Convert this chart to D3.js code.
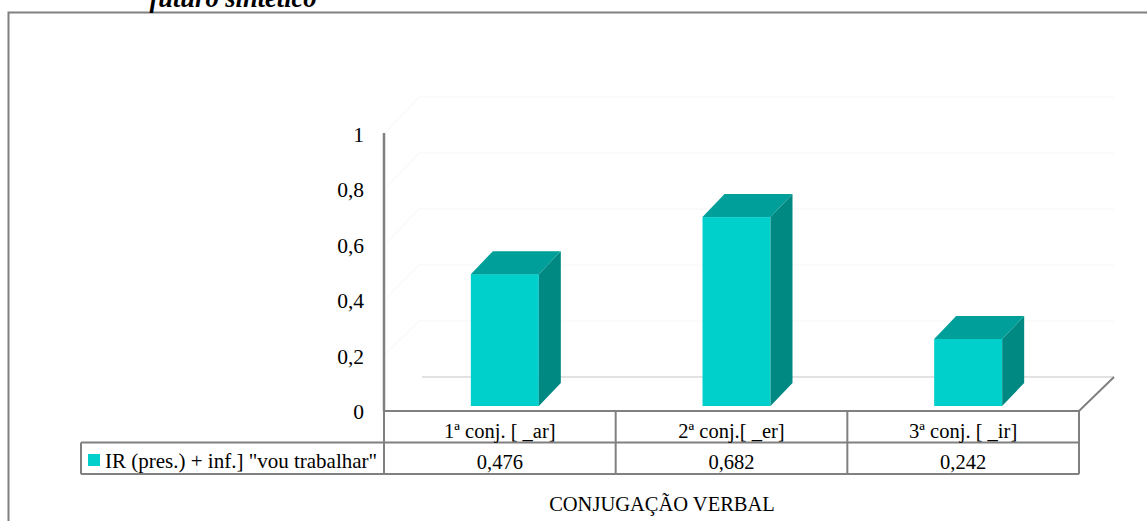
<!DOCTYPE html>
<html>
<head>
<meta charset="utf-8">
<script src="https://cdn.jsdelivr.net/npm/d3@7"></script>
<style>
  html, body { margin: 0; padding: 0; background: #fff; }
  svg { display: block; }
</style>
</head>
<body>
<svg id="chart" width="1147" height="521"></svg>
<script>
// Share of "IR (pres.) + inf." periphrastic future by verb conjugation
const categories = ["1ª conj. [ _ar]", "2ª conj.[ _er]", "3ª conj. [ _ir]"];
const seriesName = "IR (pres.) + inf.] \"vou trabalhar\"";
const values = [0.476, 0.682, 0.242];
const valueLabels = ["0,476", "0,682", "0,242"];
const yTicks = [0, 0.2, 0.4, 0.6, 0.8, 1];
const yTickLabels = ["0", "0,2", "0,4", "0,6", "0,8", "1"];
const chartTitle = "futuro sintético";
const axisTitle = "CONJUGAÇÃO VERBAL";

const serif = "'Liberation Serif', 'Times New Roman', serif";
const svg = d3.select("#chart").style("font-family", serif);

// Outer frame of the chart area
svg.append("rect")
  .attr("x", 8.5).attr("y", 12.5)
  .attr("width", 1200).attr("height", 600)
  .attr("fill", "none").attr("stroke", "#808080").attr("stroke-width", 2);

// Title (sits partly above the frame)
svg.append("text")
  .attr("x", 233).attr("y", 7)
  .attr("text-anchor", "middle")
  .style("font-family", serif)
  .style("font-size", "26.5px").style("font-weight", "bold").style("font-style", "italic")
  .text(chartTitle);

// Plot geometry
const left = 384, right = 1079, floorY = 411;
const depthX = 35, depthY = -34;          // offset of the back wall
const x = d3.scaleBand().domain(categories).range([left, right]).paddingInner(0).paddingOuter(0);
const y = d3.scaleLinear().domain([0, 1]).range([floorY, 134]);
const yBack = d3.scaleLinear().domain([0, 1]).range([floorY + depthY, 134 + depthY - 3]);

// Faint gridlines on side and back walls
const grid = svg.append("g");
yTicks.filter(v => v > 0).forEach(v => {
  grid.append("path")
    .attr("d", `M${left},${y(v)}L${left + depthX},${yBack(v)}L${right + depthX},${yBack(v)}`)
    .attr("fill", "none").attr("stroke", "#f6f6f6").attr("stroke-width", 1);
});
// Back edge of the floor
svg.append("line")
  .attr("x1", left + depthX + 3).attr("x2", right + depthX)
  .attr("y1", yBack(0)).attr("y2", yBack(0))
  .attr("stroke", "#d9d9d9").attr("stroke-width", 1.5);

// 3D bars
const barW = 68, barDX = 22, barDY = -23, shift = 5;
const bars = svg.append("g").selectAll("g").data(values).join("g");
const fx = (d, i) => x(categories[i]) + x.bandwidth() / 2 - barW / 2 + shift;
bars.each(function (d, i) {
  const g = d3.select(this);
  const x0 = fx(d, i), x1 = x0 + barW;
  const yb = y(0) - shift, yt = y(d) - shift;
  // front
  g.append("rect").attr("x", x0).attr("y", yt).attr("width", barW).attr("height", yb - yt)
    .attr("fill", "#00d0cc");
  // side
  g.append("path")
    .attr("d", `M${x1},${yt}L${x1 + barDX},${yt + barDY}L${x1 + barDX},${yb + barDY}L${x1},${yb}Z`)
    .attr("fill", "#008882");
  // top
  g.append("path")
    .attr("d", `M${x0},${yt}L${x0 + barDX},${yt + barDY}L${x1 + barDX},${yt + barDY}L${x1},${yt}Z`)
    .attr("fill", "#009f9a");
});

// Y axis
const yAxis = d3.axisLeft(y).tickValues(yTicks).tickSize(0).tickPadding(20)
  .tickFormat((d, i) => yTickLabels[i]);
const ga = svg.append("g").attr("transform", `translate(${left},0)`).call(yAxis);
ga.attr("font-family", null);
ga.select(".domain").attr("stroke", "#808080").attr("stroke-width", 2.5)
  .attr("d", `M0,${y(1) - 1}V${floorY}`);
ga.selectAll(".tick text")
  .style("font-family", serif).style("font-size", "21.5px").attr("fill", "#000")
  .attr("dy", "0.35em");

// Floor front edge and right diagonal
svg.append("path")
  .attr("d", `M${left},${floorY}L${right},${floorY}L${right + depthX},${floorY + depthY}`)
  .attr("fill", "none").attr("stroke", "#808080").attr("stroke-width", 2);

// Data table below the plot
const rowH = 31.5;
const row1 = floorY, row2 = floorY + rowH, row3 = floorY + 2 * rowH;
const legendLeft = 81;
const tbl = svg.append("g").attr("stroke", "#808080").attr("stroke-width", 2).attr("fill", "none");
tbl.append("line").attr("x1", legendLeft).attr("x2", right).attr("y1", row2).attr("y2", row2);
tbl.append("line").attr("x1", legendLeft).attr("x2", right).attr("y1", row3).attr("y2", row3);
tbl.append("line").attr("x1", legendLeft).attr("x2", legendLeft).attr("y1", row2).attr("y2", row3);
[left, ...categories.map(c => x(c) + x.bandwidth())].forEach(xx => {
  tbl.append("line").attr("x1", xx).attr("x2", xx).attr("y1", row1).attr("y2", row3);
});

const txt = (sel, size) => sel.style("font-family", serif).style("font-size", (size || 20.5) + "px").attr("fill", "#000");

svg.append("g").selectAll("text").data(categories).join("text")
  .attr("x", c => x(c) + x.bandwidth() / 2).attr("y", row1 + 27)
  .attr("text-anchor", "middle").call(txt)
  .text(c => c);

svg.append("g").selectAll("text").data(valueLabels).join("text")
  .attr("x", (d, i) => x(categories[i]) + x.bandwidth() / 2).attr("y", row2 + 26.5)
  .attr("text-anchor", "middle").call(txt)
  .text(d => d);

// Legend key inside table
svg.append("rect").attr("x", 88).attr("y", row2 + 11.5).attr("width", 12).attr("height", 12)
  .attr("fill", "#00d0cc");
svg.append("text").attr("x", 105).attr("y", row2 + 25.5).call(txt, 21).text(seriesName);

// Category axis title
svg.append("text").attr("x", 662).attr("y", 511).attr("text-anchor", "middle")
  .call(txt).text(axisTitle);
</script>
</body>
</html>
